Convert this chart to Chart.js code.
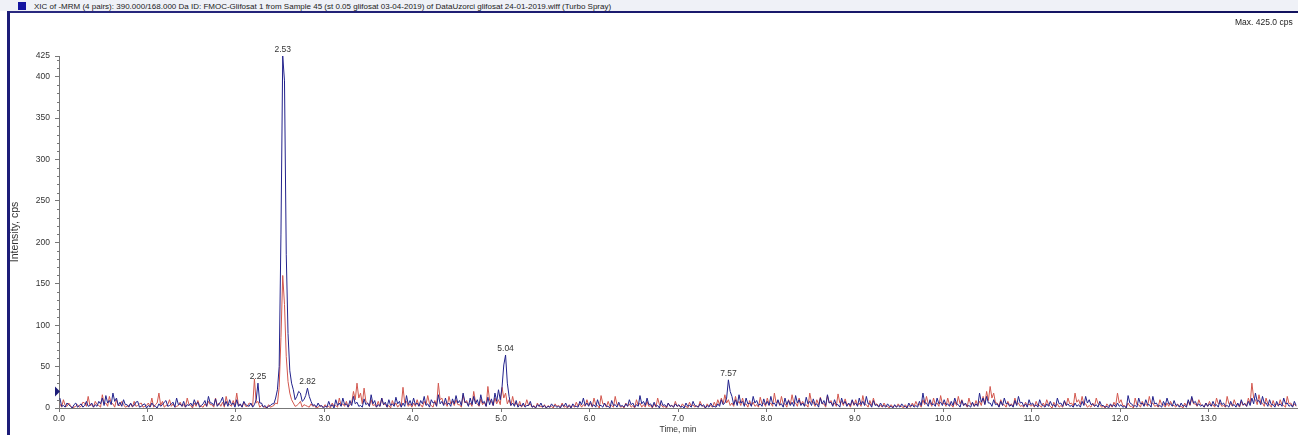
<!DOCTYPE html>
<html>
<head>
<meta charset="utf-8">
<script src="https://cdn.jsdelivr.net/npm/chart.js@4.4.0/dist/chart.umd.min.js"></script>
<style>
html,body{margin:0;padding:0;background:#fff;}
#wrap{position:relative;width:1298px;height:435px;overflow:hidden;background:#fff;font-family:"Liberation Sans",Arial,sans-serif;}
#chart{position:absolute;left:0;top:0;z-index:1;}
#topbar{position:absolute;left:0;top:0;width:1298px;height:11px;background:#eff1f7;z-index:2;}
#topline{position:absolute;left:7px;top:11px;width:1291px;height:2px;background:linear-gradient(to right,#2a2a80 0%,#1a1a6e 50%,#12125e 100%);z-index:2;}
#leftline{position:absolute;left:7px;top:11px;width:3px;height:424px;background:#1c1c78;z-index:2;}
#icon{position:absolute;left:18px;top:2px;width:8px;height:8px;background:#1414a0;z-index:3;}
#title{position:absolute;left:34px;top:2px;font-size:8px;line-height:10px;color:#222;white-space:nowrap;z-index:3;}
#maxlbl{position:absolute;left:1235px;top:17px;font-size:8.5px;line-height:10px;color:#222;white-space:nowrap;z-index:3;}
</style>
</head>
<body>
<div id="wrap">
  <canvas id="chart" width="1298" height="435"></canvas>
  <div id="topbar"></div>
  <div id="topline"></div>
  <div id="leftline"></div>
  <div id="icon"></div>
  <div id="title">XIC of -MRM (4 pairs): 390.000/168.000 Da ID: FMOC-Glifosat 1 from Sample 45 (st 0.05 glifosat 03-04-2019) of DataUzorci glifosat 24-01-2019.wiff (Turbo Spray)</div>
  <div id="maxlbl">Max. 425.0 cps</div>
</div>
<script>
// ---- data (one row per minute, sampled every 0.02 min starting at 0.01 min) ----
const startMin = 0.01;
const stepMin = 0.02;
const xTickValues = [0,1,2,3,4,5,6,7,8,9,10,11,12,13];
const yTickValues = [0,50,100,150,200,250,300,350,400,425];

const blueValues = [
  12,2, 3,1, 6,4, 2,0, 4,6, 1,3, 5,1, 3,8, 2,3, 6,1, 4,2, 8,5, 12,3, 15,6, 9,4, 18,8, 12,3, 7,2, 10,4, 4,1, 6,2, 3,7, 8,1, 2,4, 5,0,
  3,1, 6,3, 2,0, 5,2, 4,7, 9,2, 3,5, 7,1, 12,4, 5,2, 8,1, 4,3, 6,2, 10,4, 7,1, 3,5, 9,2, 14,6, 6,3, 11,2, 5,8, 13,3, 8,2, 10,4, 6,1,
  10,2, 5,1, 8,4, 3,2, 6,1, 4,10, 30,6, 6,1, 3,0, 2,3, 5,5, 12,22, 50,210, 425,395, 185,90, 45,30, 22,10, 14,20, 18,8, 10,15, 24,14, 8,3, 4,1, 6,2, 3,0,
  2,1, 8,2, 4,0, 10,3, 6,2, 12,4, 5,1, 9,3, 14,5, 7,2, 3,1, 11,4, 6,2, 16,5, 9,1, 4,2, 12,4, 7,1, 10,3, 5,2, 13,5, 8,1, 6,2, 15,4, 9,3,
  12,4, 6,2, 9,5, 14,3, 5,1, 10,6, 7,2, 16,5, 8,3, 12,4, 6,2, 11,5, 15,6, 9,3, 18,7, 7,2, 12,4, 14,5, 10,3, 16,6, 8,2, 13,4, 11,3, 18,8, 22,10,
  25,52, 64,30, 14,3, 6,2, 9,1, 4,2, 6,1, 3,3, 8,1, 2,0, 4,2, 6,1, 3,0, 2,1, 5,2, 3,1, 2,0, 4,2, 6,1, 3,0, 5,2, 2,1, 8,4, 12,3, 6,2,
  8,2, 4,1, 10,3, 3,1, 6,2, 2,0, 9,3, 4,1, 7,2, 3,1, 5,2, 10,4, 6,1, 4,2, 15,5, 8,3, 12,4, 5,1, 7,2, 3,0, 9,3, 4,1, 6,2, 3,1, 5,2,
  4,1, 2,0, 6,2, 3,1, 8,3, 2,1, 5,2, 4,0, 3,1, 6,2, 2,1, 5,2, 10,4, 6,12, 34,20, 14,4, 10,3, 16,6, 8,2, 12,5, 6,2, 14,6, 9,3, 5,2, 11,4,
  8,3, 14,5, 6,2, 10,4, 5,1, 12,4, 9,3, 7,2, 15,6, 10,3, 6,2, 13,5, 8,3, 11,4, 5,1, 12,5, 9,3, 16,6, 7,2, 10,4, 4,1, 12,5, 8,2, 6,3, 10,4,
  6,2, 12,4, 8,3, 14,5, 5,1, 9,3, 4,1, 6,2, 3,1, 5,2, 2,0, 4,1, 3,1, 5,2, 2,0, 6,2, 4,1, 3,1, 8,3, 18,6, 6,2, 10,4, 5,2, 12,5, 7,3,
  10,4, 5,2, 8,3, 12,5, 4,1, 9,3, 6,2, 3,1, 7,2, 5,2, 18,7, 12,4, 14,6, 6,2, 10,4, 5,1, 8,3, 12,5, 6,2, 4,1, 9,3, 14,6, 7,2, 5,1, 10,4,
  6,2, 4,1, 10,4, 3,1, 5,2, 8,3, 4,1, 12,5, 6,2, 9,3, 5,2, 3,1, 6,2, 4,1, 8,3, 14,6, 10,4, 5,2, 4,1, 8,3, 3,1, 2,0, 5,2, 4,1, 6,2,
  4,1, 2,0, 15,6, 5,2, 3,1, 12,5, 6,2, 10,4, 4,1, 14,5, 6,2, 3,1, 8,3, 12,5, 5,2, 9,3, 4,1, 6,2, 3,1, 10,4, 14,6, 8,3, 5,2, 4,1, 6,2,
  5,2, 8,3, 4,1, 10,4, 6,2, 3,1, 8,3, 4,1, 6,2, 10,4, 5,2, 8,3, 12,5, 18,8, 9,4, 14,6, 6,2, 10,4, 4,1, 8,3, 5,2, 12,5, 6,2, 4,1, 8,3
];
const redValues = [
  5,1, 10,3, 2,6, 3,0, 1,2, 4,1, 2,7, 6,2, 14,3, 4,1, 8,4, 3,1, 16,5, 6,2, 14,6, 5,1, 10,3, 3,8, 4,1, 2,3, 5,1, 8,2, 3,5, 6,1, 2,3,
  6,2, 12,1, 4,6, 18,3, 8,1, 3,4, 10,2, 5,1, 2,3, 7,2, 4,1, 12,4, 3,0, 6,2, 9,3, 2,1, 5,2, 8,4, 4,1, 12,3, 6,2, 7,1, 14,5, 4,2, 9,3,
  18,3, 4,1, 7,2, 2,6, 5,2, 35,6, 8,1, 3,2, 1,0, 4,1, 2,3, 6,5, 25,85, 160,125, 62,32, 18,10, 6,2, 3,5, 8,1, 4,3, 2,1, 5,2, 3,0, 1,3, 2,1,
  4,1, 2,0, 6,2, 3,1, 12,3, 5,2, 8,1, 4,6, 20,10, 30,12, 18,5, 24,8, 6,2, 10,3, 4,1, 8,2, 12,4, 5,1, 3,0, 9,3, 6,1, 4,2, 25,6, 8,2, 5,1,
  6,2, 10,3, 4,1, 8,4, 15,5, 3,1, 9,3, 30,10, 12,4, 6,2, 14,5, 8,3, 10,4, 4,1, 16,6, 9,3, 6,2, 20,7, 5,2, 11,4, 7,2, 26,9, 8,3, 12,5, 10,4,
  25,12, 18,5, 10,3, 14,4, 6,2, 8,1, 4,2, 10,3, 5,1, 3,0, 6,2, 2,1, 4,0, 3,1, 2,0, 5,2, 3,1, 6,1, 2,0, 4,1, 3,1, 7,2, 5,1, 4,2, 10,3,
  6,1, 12,4, 3,0, 15,5, 5,1, 8,2, 3,1, 14,4, 4,1, 2,0, 6,2, 5,1, 3,0, 10,3, 6,1, 4,1, 8,2, 3,0, 5,1, 12,4, 4,1, 2,0, 6,2, 3,1, 8,2,
  3,1, 5,2, 2,0, 7,2, 4,1, 3,1, 8,3, 2,0, 5,2, 3,1, 7,2, 10,4, 12,5, 16,6, 10,3, 6,2, 14,5, 8,3, 12,4, 5,1, 9,3, 7,2, 4,1, 13,5, 6,2,
  12,4, 6,2, 18,6, 9,3, 14,5, 5,1, 10,4, 16,6, 6,2, 12,4, 8,3, 4,1, 18,7, 7,2, 10,4, 13,5, 5,1, 15,6, 9,3, 6,2, 17,6, 8,3, 11,4, 5,1, 9,3,
  10,3, 6,2, 15,5, 4,1, 9,3, 12,4, 5,2, 3,1, 6,2, 2,0, 4,1, 3,1, 5,2, 2,0, 4,1, 3,1, 6,2, 8,3, 5,1, 10,4, 14,5, 7,2, 12,4, 6,2, 15,5,
  6,2, 12,4, 4,1, 8,3, 14,5, 10,3, 5,1, 12,4, 6,2, 9,3, 8,3, 14,5, 20,9, 26,12, 18,6, 6,2, 10,4, 4,1, 8,3, 5,2, 12,4, 6,2, 3,1, 7,3, 5,2,
  4,1, 8,3, 3,1, 6,2, 10,4, 2,0, 7,2, 5,1, 3,1, 8,3, 12,5, 6,2, 18,7, 10,4, 14,5, 5,1, 3,1, 6,2, 12,5, 4,1, 2,0, 5,2, 3,1, 7,3, 18,6,
  10,3, 3,1, 6,2, 2,0, 12,4, 4,1, 8,3, 5,2, 14,5, 6,2, 3,1, 10,4, 4,1, 6,2, 8,3, 3,1, 5,2, 2,0, 6,2, 8,3, 12,5, 5,2, 10,4, 3,1, 6,2,
  8,3, 4,1, 12,5, 6,2, 3,1, 14,5, 5,2, 10,4, 4,1, 8,3, 6,2, 12,5, 30,12, 10,4, 16,6, 6,2, 12,5, 4,1, 9,3, 5,2, 10,4, 3,1, 14,5, 6,2, 5,2
];

const peakTimes   = [2.25, 2.53, 2.81, 5.05, 7.57];
const peakHeights = [30, 425, 24, 64, 34];
const peakLabels  = ['2.25', '2.53', '2.82', '5.04', '7.57'];
const markerLevel = 20;

// ---- build ----
const times = blueValues.map((_, i) => +(startMin + i * stepMin).toFixed(2));
const toXY = vals => vals.map((v, i) => ({x: times[i], y: v}));
const FONT = '"Liberation Sans", Arial, sans-serif';

const extras = {
  id: 'extras',
  afterDraw(chart) {
    const c = chart.ctx, xs = chart.scales.x, ys = chart.scales.y;
    c.save();
    // minor y ticks
    c.strokeStyle = '#777';
    c.lineWidth = 1;
    c.beginPath();
    for (let v = 10; v < 425; v += 10) {
      if (v % 50 === 0) continue;
      const y = Math.round(ys.getPixelForValue(v)) + 0.5;
      c.moveTo(xs.left - 2, y); c.lineTo(xs.left, y);
    }
    c.stroke();
    // threshold marker
    const my = ys.getPixelForValue(markerLevel);
    c.fillStyle = '#1c1c78';
    c.beginPath();
    c.moveTo(xs.left - 4, my - 5); c.lineTo(xs.left + 1, my); c.lineTo(xs.left - 4, my + 5);
    c.closePath(); c.fill();
    // peak labels
    c.fillStyle = '#333';
    c.font = '8.5px ' + FONT;
    c.textAlign = 'center';
    c.textBaseline = 'bottom';
    peakTimes.forEach((t, i) => {
      const x = xs.getPixelForValue(t);
      const y = ys.getPixelForValue(peakHeights[i]);
      c.fillText(peakLabels[i], x, y - 2);
    });
    c.restore();
  }
};

new Chart(document.getElementById('chart'), {
  type: 'line',
  data: {
    datasets: [
      {label: 'blue', data: toXY(blueValues), borderColor: '#22228c', borderWidth: 1, pointRadius: 0, tension: 0, fill: false},
      {label: 'red', data: toXY(redValues), borderColor: '#d2574e', borderWidth: 1, pointRadius: 0, tension: 0, fill: false}
    ]
  },
  options: {
    responsive: false,
    animation: false,
    devicePixelRatio: 1,
    layout: {padding: {left: 0, right: 1, top: 56, bottom: 0}},
    plugins: {legend: {display: false}, tooltip: {enabled: false}},
    scales: {
      x: {
        type: 'linear', min: 0, max: 14,
        afterBuildTicks: s => { s.ticks = xTickValues.map(v => ({value: v})); },
        afterFit: s => { s.height = 27; },
        grid: {drawOnChartArea: false, tickLength: 4, color: '#777'},
        border: {color: '#777'},
        ticks: {font: {size: 8.5, family: FONT}, color: '#333', padding: 2, maxRotation: 0, autoSkip: false,
                callback: v => Number(v).toFixed(1)},
        title: {display: true, text: 'Time, min', font: {size: 8.5, family: FONT}, color: '#333', padding: {top: 0, bottom: 0}}
      },
      y: {
        min: 0, max: 425,
        afterBuildTicks: s => { s.ticks = yTickValues.map(v => ({value: v})); },
        afterFit: s => { s.width = 59; },
        grid: {drawOnChartArea: false, tickLength: 4, color: '#777'},
        border: {color: '#777'},
        ticks: {font: {size: 8.5, family: FONT}, color: '#333', padding: 5, autoSkip: false},
        title: {display: true, text: 'Intensity, cps', font: {size: 10.5, family: FONT}, color: '#333', padding: {top: 9, bottom: 0}}
      }
    }
  },
  plugins: [extras]
});
</script>
</body>
</html>
